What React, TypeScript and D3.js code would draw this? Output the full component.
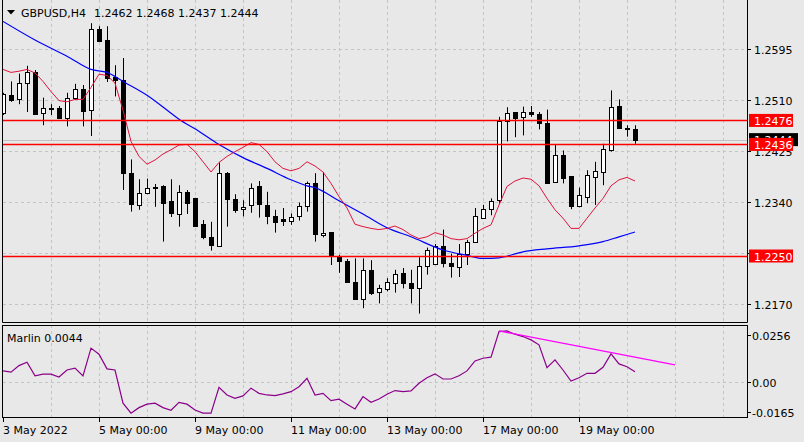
import { useEffect, useRef } from "react";
import * as d3 from "d3";

// GBPUSD H4 candles, 3 May 2022 00:00 .. 20 May 2022 04:00
const opens = [
  1.2488, 1.2518, 1.2512, 1.2539, 1.2557, 1.2488, 1.2496, 1.2497, 1.2480, 1.2514,
  1.2528, 1.2494, 1.2629, 1.2610, 1.2549, 1.2544, 1.2388, 1.2335, 1.2355, 1.2365,
  1.2367, 1.2341, 1.2320, 1.2357, 1.2346, 1.2303, 1.2281, 1.2267, 1.2389, 1.2345,
  1.2328, 1.2335, 1.2366, 1.2335, 1.2317, 1.2312, 1.2309, 1.2316, 1.2333, 1.2372,
  1.2285, 1.2290, 1.2249, 1.2242, 1.2206, 1.2179, 1.2227, 1.2190, 1.2195, 1.2205,
  1.2221, 1.2205, 1.2196, 1.2234, 1.2236, 1.2267, 1.2239, 1.2232, 1.2253, 1.2273,
  1.2314, 1.2328, 1.2343, 1.2475, 1.2490, 1.2481, 1.2490, 1.2487, 1.2472, 1.2373,
  1.2418, 1.2383, 1.2334, 1.2349, 1.2382, 1.2390, 1.2426, 1.2500, 1.2463, 1.2462,
];
const highs = [
  1.2522, 1.2541, 1.2554, 1.2567, 1.2560, 1.2514, 1.2503, 1.2500, 1.2522, 1.2537,
  1.2535, 1.2638, 1.2633, 1.2633, 1.2568, 1.2580, 1.2411, 1.2378, 1.2379, 1.2370,
  1.2368, 1.2378, 1.2368, 1.2360, 1.2347, 1.2310, 1.2307, 1.2406, 1.2390, 1.2353,
  1.2343, 1.2371, 1.2375, 1.2357, 1.2327, 1.2330, 1.2321, 1.2339, 1.2374, 1.2388,
  1.2390, 1.2290, 1.2252, 1.2245, 1.2246, 1.2246, 1.2243, 1.2202, 1.2213, 1.2227,
  1.2230, 1.2227, 1.2248, 1.2264, 1.2270, 1.2294, 1.2254, 1.2270, 1.2277, 1.2330,
  1.2335, 1.2346, 1.2482, 1.2498, 1.2490, 1.2499, 1.2500, 1.2490, 1.2494, 1.2436,
  1.2426, 1.2383, 1.2364, 1.2393, 1.2407, 1.2437, 1.2526, 1.2511, 1.2468, 1.2468,
];
const lows = [
  1.2485, 1.2507, 1.2503, 1.2490, 1.2485, 1.2468, 1.2485, 1.2479, 1.2466, 1.2510,
  1.2466, 1.2450, 1.2607, 1.2540, 1.2516, 1.2360, 1.2324, 1.2327, 1.2353, 1.2332,
  1.2274, 1.2315, 1.2299, 1.2320, 1.2299, 1.2278, 1.2259, 1.2266, 1.2299, 1.2322,
  1.2316, 1.2322, 1.2314, 1.2303, 1.2289, 1.2300, 1.2302, 1.2309, 1.2324, 1.2274,
  1.2281, 1.2235, 1.2222, 1.2205, 1.2177, 1.2163, 1.2185, 1.2171, 1.2191, 1.2189,
  1.2196, 1.2171, 1.2154, 1.2219, 1.2235, 1.2231, 1.2214, 1.2215, 1.2235, 1.2272,
  1.2313, 1.2318, 1.2337, 1.2441, 1.2448, 1.2451, 1.2482, 1.2461, 1.2370, 1.2373,
  1.2371, 1.2328, 1.2331, 1.2338, 1.2335, 1.2368, 1.2424, 1.2463, 1.2449, 1.2437,
];
const closes = [
  1.2520, 1.2510, 1.2539, 1.2557, 1.2486, 1.2496, 1.2495, 1.2480, 1.2514, 1.2529,
  1.2492, 1.2629, 1.2609, 1.2546, 1.2543, 1.2388, 1.2336, 1.2355, 1.2364, 1.2364,
  1.2338, 1.2321, 1.2356, 1.2339, 1.2300, 1.2281, 1.2268, 1.2388, 1.2345, 1.2327,
  1.2332, 1.2363, 1.2336, 1.2317, 1.2307, 1.2309, 1.2315, 1.2334, 1.2371, 1.2286,
  1.2289, 1.2250, 1.2242, 1.2206, 1.2178, 1.2227, 1.2189, 1.2196, 1.2206, 1.2220,
  1.2205, 1.2197, 1.2234, 1.2260, 1.2267, 1.2238, 1.2233, 1.2253, 1.2274, 1.2316,
  1.2328, 1.2341, 1.2475, 1.2488, 1.2480, 1.2490, 1.2487, 1.2471, 1.2372, 1.2418,
  1.2380, 1.2334, 1.2351, 1.2385, 1.2392, 1.2428, 1.2498, 1.2463, 1.2462, 1.2444,
];

// red (fast) moving average, one value per candle
const fastMa = [
  1.2561, 1.2556, 1.2558, 1.2561, 1.2555, 1.2541, 1.2524, 1.2509, 1.2507, 1.2511,
  1.2511, 1.2531, 1.2553, 1.2551, 1.2538, 1.2493, 1.2441, 1.2416, 1.2403, 1.2410,
  1.2420, 1.2427, 1.2435, 1.2436, 1.2424, 1.2407, 1.2390, 1.2406, 1.2416, 1.2424,
  1.2431, 1.2439, 1.2436, 1.2424, 1.2407, 1.2396, 1.2392, 1.2396, 1.2407, 1.2400,
  1.2390, 1.2371, 1.2349, 1.2330, 1.2303, 1.2299, 1.2296, 1.2294, 1.2296, 1.2300,
  1.2294, 1.2285, 1.2279, 1.2282, 1.2289, 1.2285, 1.2279, 1.2277, 1.2279, 1.2288,
  1.2296, 1.2302, 1.2335, 1.2366, 1.2375, 1.2380, 1.2378, 1.2367, 1.2346, 1.2327,
  1.2313, 1.2296, 1.2296, 1.2313, 1.2330, 1.2346, 1.2367, 1.2377, 1.2381, 1.2375,
];

// blue (slow) moving average, read at these candles
const slowMaIdx = [0, 4, 8, 11, 13, 15, 18, 21, 22, 24, 27, 30, 33, 36, 38, 39, 42, 45, 48, 51, 55, 58, 60, 62, 65, 68, 72, 75, 77, 79];
const slowMaVal = [
  1.2641, 1.2610, 1.2583, 1.2561, 1.2556, 1.2541, 1.2518, 1.2488, 1.2478, 1.2462,
  1.2436, 1.2414, 1.2396, 1.2377, 1.2367, 1.2364, 1.2342, 1.2320, 1.2297, 1.2282,
  1.2260, 1.2251, 1.2246, 1.2247, 1.2257, 1.2262, 1.2267, 1.2274, 1.2282, 1.2290,
];

// Marlin oscillator
const marlin = [
  0.0060, 0.0053, 0.0089, 0.0107, 0.0033, 0.0042, 0.0042, 0.0027, 0.0065, 0.0075,
  0.0033, 0.0184, 0.0151, 0.0071, 0.0065, -0.0116, -0.0170, -0.0140, -0.0121, -0.0116,
  -0.0140, -0.0154, -0.0111, -0.0121, -0.0153, -0.0170, -0.0170, -0.0029, -0.0071, -0.0089,
  -0.0076, -0.0034, -0.0062, -0.0071, -0.0075, -0.0065, -0.0053, -0.0026, 0.0020, -0.0071,
  -0.0062, -0.0102, -0.0094, -0.0121, -0.0147, -0.0080, -0.0111, -0.0093, -0.0067, -0.0047,
  -0.0053, -0.0049, -0.0007, 0.0023, 0.0044, 0.0016, 0.0016, 0.0034, 0.0060, 0.0114,
  0.0129, 0.0135, 0.0274, 0.0278, 0.0260, 0.0247, 0.0229, 0.0202, 0.0078, 0.0120,
  0.0065, 0.0005, 0.0023, 0.0047, 0.0047, 0.0080, 0.0153, 0.0098, 0.0083, 0.0056,
];
const trendIdx = [62, 84];
const trendVal = [0.0278, 0.0093];

const levels = [1.2476, 1.2436, 1.2250];
const bid = 1.2444;
const priceTicks = [1.268, 1.2595, 1.251, 1.2425, 1.234, 1.2255, 1.217];
const marlinTicks = [0.0256, 0, -0.0165];
const marlinTickLabels = ["0.0256", "0.00", "-0.0165"];
const dateIdx = [0, 12, 24, 36, 48, 60, 72];
const dateLabels = ["3 May 2022", "5 May 00:00", "9 May 00:00", "11 May 00:00", "13 May 00:00", "17 May 00:00", "19 May 00:00"];

export default function App() {
  const svgRef = useRef(null);

  useEffect(() => {
    const width = 804, height = 442;
    const font = "DejaVu Sans";
    const bg = "#e8e8e8";
    const gridColor = "#c4c4c4";

    const svg = d3.select(svgRef.current)
      .attr("width", width)
      .attr("height", height)
      .style("position", "absolute")
      .style("left", 0)
      .style("top", 0)
      .style("font-family", font)
      .style("font-size", "11px");

    svg.selectAll("*").remove();

    const x = d3.scaleLinear().domain([0, 93]).range([3, 747]);
    const y = d3.scaleLinear().domain([1.2140, 1.26767]).range([322, 0]);
    const ySub = d3.scaleLinear().domain([-0.0191, 0.0310]).range([417, 325]);
    const px = (i) => Math.round(x(i)) + 0.5;
    const py = (v) => Math.round(y(v)) + 0.5;

    svg.append("rect").attr("width", width).attr("height", height).attr("fill", bg);

    const defs = svg.append("defs");
    defs.append("clipPath").attr("id", "clipMain")
      .append("rect").attr("x", 3).attr("y", 0).attr("width", 744).attr("height", 322);
    defs.append("clipPath").attr("id", "clipSub")
      .append("rect").attr("x", 3).attr("y", 326).attr("width", 744).attr("height", 91);

    const gMain = svg.append("g").attr("clip-path", "url(#clipMain)");
    const gSub = svg.append("g").attr("clip-path", "url(#clipSub)");

    // grid
    d3.range(6, 94, 6).forEach(i => {
      gMain.append("line").attr("x1", px(i)).attr("x2", px(i)).attr("y1", 0).attr("y2", 322)
        .attr("stroke", gridColor).attr("stroke-dasharray", "3,3");
      gSub.append("line").attr("x1", px(i)).attr("x2", px(i)).attr("y1", 325).attr("y2", 417)
        .attr("stroke", gridColor).attr("stroke-dasharray", "3,3");
    });
    priceTicks.forEach(p => {
      gMain.append("line").attr("x1", 3).attr("x2", 747).attr("y1", py(p)).attr("y2", py(p))
        .attr("stroke", gridColor).attr("stroke-dasharray", "3,3");
    });
    gSub.append("line").attr("x1", 3).attr("x2", 747)
      .attr("y1", Math.round(ySub(0)) + 0.5).attr("y2", Math.round(ySub(0)) + 0.5)
      .attr("stroke", gridColor).attr("stroke-dasharray", "3,3");

    // bid line
    gMain.append("line").attr("x1", 3).attr("x2", 747).attr("y1", py(bid)).attr("y2", py(bid))
      .attr("stroke", "#c0c0c0");

    // candles
    opens.forEach((o, i) => {
      const c = closes[i];
      const xc = px(i);
      const top = Math.round(y(Math.max(o, c))) + 0.5;
      const bot = Math.round(y(Math.min(o, c))) + 0.5;
      gMain.append("line").attr("x1", xc).attr("x2", xc)
        .attr("y1", y(highs[i])).attr("y2", y(lows[i]))
        .attr("stroke", "#000");
      if (bot - top < 1) {
        gMain.append("line").attr("x1", xc - 2.5).attr("x2", xc + 2.5).attr("y1", top).attr("y2", top)
          .attr("stroke", "#000");
      } else {
        gMain.append("rect").attr("x", xc - 2).attr("y", top).attr("width", 4).attr("height", bot - top)
          .attr("fill", c >= o ? "#fff" : "#000").attr("stroke", "#000");
      }
    });

    // moving averages
    const slowLine = d3.line().x(d => x(d[0])).y(d => y(d[1])).curve(d3.curveMonotoneX);
    gMain.append("path").datum(slowMaIdx.map((i, k) => [i, slowMaVal[k]]))
      .attr("d", slowLine).attr("fill", "none").attr("stroke", "#0000ff").attr("stroke-width", 1.2);
    const fastLine = d3.line().x((d, i) => x(i)).y(d => y(d));
    gMain.append("path").datum(fastMa)
      .attr("d", fastLine).attr("fill", "none").attr("stroke", "#e0143c").attr("stroke-width", 1);

    // horizontal levels
    levels.forEach(p => {
      gMain.append("line").attr("x1", 3).attr("x2", 747).attr("y1", py(p)).attr("y2", py(p))
        .attr("stroke", "#ff0000").attr("stroke-width", 1.3);
    });

    // Marlin
    const subLine = d3.line().x((d, i) => x(i)).y(d => ySub(d));
    gSub.append("path").datum(marlin)
      .attr("d", subLine).attr("fill", "none").attr("stroke", "#8b008b").attr("stroke-width", 1.2);
    gSub.append("line")
      .attr("x1", x(trendIdx[0])).attr("y1", ySub(trendVal[0]))
      .attr("x2", x(trendIdx[1])).attr("y2", ySub(trendVal[1]))
      .attr("stroke", "#ff00ff").attr("stroke-width", 1.3);

    // frames
    svg.append("path").attr("d", "M2.5,0 V322.5 H747.5 V0").attr("fill", "none").attr("stroke", "#000");
    svg.append("rect").attr("x", 2.5).attr("y", 325.5).attr("width", 745).attr("height", 92)
      .attr("fill", "none").attr("stroke", "#000");

    // price axis
    priceTicks.forEach(p => {
      const yy = py(p);
      if (yy < 5) return;
      svg.append("line").attr("x1", 747).attr("x2", 751).attr("y1", yy).attr("y2", yy).attr("stroke", "#000");
      svg.append("text").attr("x", 754).attr("y", yy + 4.5).attr("fill", "#000").text(p.toFixed(4));
    });
    const by = y(bid);
    svg.append("rect").attr("x", 749).attr("y", by - 6.5).attr("width", 49).attr("height", 13).attr("fill", "#000");
    svg.append("text").attr("x", 754).attr("y", by + 4.5).attr("fill", "#fff").text(bid.toFixed(4));
    levels.forEach(p => {
      const yy = y(p);
      svg.append("rect").attr("x", 749).attr("y", yy - 6.5).attr("width", 44).attr("height", 13).attr("fill", "#ff0000");
      svg.append("text").attr("x", 754).attr("y", yy + 4.5).attr("fill", "#fff").text(p.toFixed(4));
    });

    // Marlin axis
    marlinTicks.forEach((v, k) => {
      const yy = Math.round(ySub(v)) + 0.5;
      svg.append("line").attr("x1", 747).attr("x2", 751).attr("y1", yy).attr("y2", yy).attr("stroke", "#000");
      svg.append("text").attr("x", 752).attr("y", yy + 4.5).attr("fill", "#000").text(marlinTickLabels[k]);
    });

    // time axis
    dateIdx.forEach((i, k) => {
      const xx = px(i);
      svg.append("line").attr("x1", xx).attr("x2", xx).attr("y1", 418).attr("y2", 422).attr("stroke", "#000");
      svg.append("text").attr("x", xx - 0.5).attr("y", 434).attr("fill", "#000").text(dateLabels[k]);
    });

    // titles
    svg.append("path").attr("d", "M7,10 L15,10 L11,14.5 Z").attr("fill", "#000");
    svg.append("text").attr("x", 21).attr("y", 16.5).attr("fill", "#000").text("GBPUSD,H4");
    svg.append("text").attr("x", 94).attr("y", 16.5).attr("fill", "#000")
      .text([opens[79], highs[79], lows[79], closes[79]].map(v => v.toFixed(4)).join(" "));
    svg.append("text").attr("x", 7).attr("y", 341.5).attr("fill", "#000").text("Marlin 0.0044");
  }, []);

  return <svg ref={svgRef} />;
}
